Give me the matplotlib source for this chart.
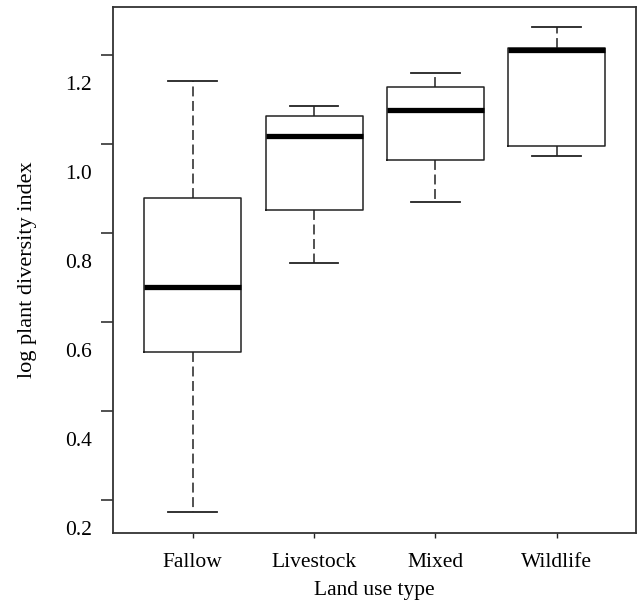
import matplotlib
matplotlib.use("Agg")
import matplotlib.pyplot as plt

plt.rcParams['font.family'] = ['Liberation Serif', 'DejaVu Serif']

land_use = ["Fallow", "Livestock", "Mixed", "Wildlife"]
whislo = [0.235, 0.794, 0.931, 1.035]
q1 = [0.594, 0.914, 1.026, 1.058]
med = [0.740, 1.080, 1.139, 1.273]
q3 = [0.940, 1.125, 1.190, 1.279]
whishi = [1.203, 1.148, 1.221, 1.324]

ytick_labels = [0.2, 0.4, 0.6, 0.8, 1.0, 1.2]
# tick marks sit a little above their labels in the original figure
ytick_marks = [v + 0.0618 for v in ytick_labels]

stats = []
for i, name in enumerate(land_use):
    stats.append(dict(label=name, whislo=whislo[i], q1=q1[i], med=med[i],
                      q3=q3[i], whishi=whishi[i], fliers=[]))

fig = plt.figure(figsize=(6.4, 6.05), dpi=100)
ax = fig.add_axes([0.1766, 0.1185, 0.8172, 0.8699])

line_col = "#222222"
ax.bxp(stats, positions=[1, 2, 3, 4], widths=0.8, showfliers=False,
       boxprops=dict(color=line_col, linewidth=1.1),
       medianprops=dict(color="black", linewidth=3.8, solid_capstyle="butt"),
       whiskerprops=dict(color=line_col, linewidth=1.1, linestyle=(0, (6.5, 3))),
       capprops=dict(color=line_col, linewidth=1.3),
       capwidths=0.4)

ax.set_xlim(0.343, 4.654)
ax.set_ylim(0.1875, 1.370)

ax.set_yticks(ytick_labels)
ax.set_yticklabels([f"{v:.1f}" for v in ytick_labels])
ax.tick_params(axis="y", which="major", length=0, pad=15, labelsize=15.5)
ax.set_yticks(ytick_marks, minor=True)
ax.tick_params(axis="y", which="minor", length=8.6, width=1.1, color=line_col)
ax.tick_params(axis="x", length=3.5, width=1.0, pad=10.5, labelsize=15.5, color=line_col)

ax.set_xlabel("Land use type", fontsize=15.5, labelpad=7)
ax.set_ylabel("log plant diversity index", fontsize=16, labelpad=20)

for s in ax.spines.values():
    s.set_linewidth(1.3)
    s.set_color("#333333")

fig.savefig("out.png", dpi=100)
